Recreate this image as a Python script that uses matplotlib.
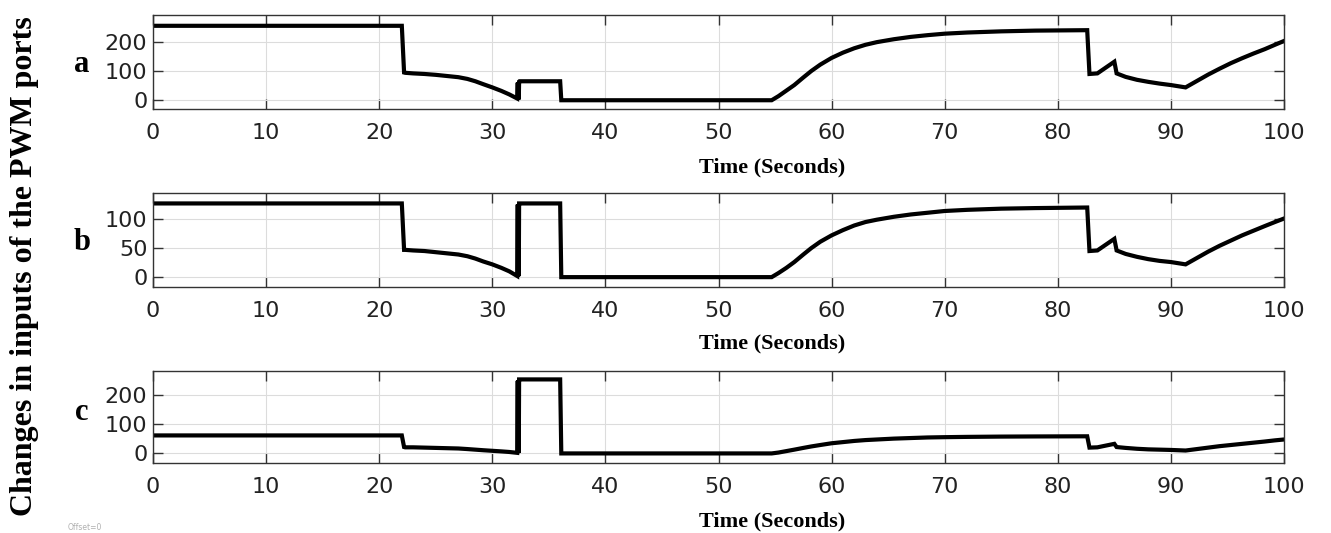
import matplotlib
matplotlib.use("Agg")
import matplotlib.pyplot as plt

# time base shared by the three PWM traces (seconds)
t = [0, 22.0, 22.2, 22.3, 23, 24, 25, 26, 27, 27.8, 28.5, 29.2, 30, 30.8, 31.5, 32.2,
     32.25, 32.28, 32.31, 32.34, 32.37, 32.4, 36.0, 36.1,
     54.7, 55.3, 56, 56.7, 57.5, 58.2, 59, 60, 61, 62, 63, 64, 65.5, 67, 68.5, 70,
     72, 75, 78, 82.6,
     82.8, 83.5, 85.0, 85.2, 86, 87, 88, 89, 90, 91.3,
     92.3, 93.3, 94.3, 95.3, 96.3, 97.3, 98.3, 99.2, 100]

pwm_a = [255, 255, 95, 94, 92, 90, 87, 83, 79, 73, 65, 55, 44, 32, 20, 6,
         60, 4, 62, 3, 64, 65, 65, 0,
         0, 14, 33, 52, 78, 100, 122, 145, 163, 178, 190, 199, 209, 217, 223, 228,
         232, 236, 238.5, 240,
         90, 92, 132, 92, 80, 70, 63, 57, 52, 44,
         66, 88, 108, 127, 144, 160, 175, 190, 203]

pwm_b = [127, 127, 47, 47, 46, 45, 43, 41, 39, 36, 32, 27, 22, 16, 10, 2,
         125, 1, 126, 2, 127, 127, 127, 0,
         0, 7, 16, 26, 39, 50, 61, 72, 81, 89, 95, 99, 104, 108, 111, 114,
         116, 118, 119, 120,
         45, 46, 66, 46, 40, 35, 31, 28, 26, 22,
         33, 44, 54, 63, 72, 80, 88, 95, 101]

pwm_c = [62, 62, 22, 21, 21, 20, 19, 18, 17, 15, 13, 11, 9, 7, 5, 2,
         250, 1, 252, 2, 255, 255, 255, 0,
         0, 3, 8, 13, 19, 24, 29, 35, 39, 43, 46, 48, 51, 53, 55, 56,
         57, 58, 58.5, 59,
         20, 21, 33, 22, 19, 16, 14, 13, 12, 10,
         15, 20, 25, 29, 33, 37, 41, 45, 48]

panels = ["a", "b", "c"]
series = [pwm_a, pwm_b, pwm_c]
yticks = [[0, 100, 200], [0, 50, 100], [0, 100, 200]]
ylims = [(-30, 292), (-17, 145), (-33, 284)]
xticks = list(range(0, 101, 10))

fig = plt.figure(figsize=(13.31, 5.33), dpi=100)
fig.patch.set_facecolor("white")

# axes boxes (pixel rows)
boxes = [(15, 109), (193, 287), (371, 463)]
left, right = 153 / 1331, 1284 / 1331
xlab_y = [167, 343, 521]
letter_y = [65, 243, 412]

tickfont = "DejaVu Sans"
serif = "Liberation Serif"

for i, (top, bot) in enumerate(boxes):
    ax = fig.add_axes([left, 1 - bot / 533, right - left, (bot - top) / 533])
    ax.plot(t, series[i], color="black", lw=3.0, solid_joinstyle="miter")
    ax.set_xlim(0, 100)
    ax.set_ylim(*ylims[i])
    ax.set_xticks(xticks)
    ax.set_yticks(yticks[i])
    ax.grid(True, color="#dcdcdc", lw=0.8)
    ax.set_axisbelow(True)
    for s in ax.spines.values():
        s.set_color("#333333")
        s.set_linewidth(1.0)
    ax.tick_params(direction="in", top=True, right=True, length=7,
                   width=1.0, color="#333333", labelcolor="#222222")
    ax.tick_params(axis="x", pad=10)
    ax.tick_params(axis="y", pad=4)
    for lab in ax.get_xticklabels() + ax.get_yticklabels():
        lab.set_fontfamily(tickfont)
        lab.set_fontsize(16)
    fig.text(772 / 1331, 1 - xlab_y[i] / 533, "Time (Seconds)", ha="center",
             va="center", fontsize=16, fontweight="bold", family=serif)
    fig.text(82 / 1331, 1 - letter_y[i] / 533, panels[i], ha="center",
             va="center", fontsize=22, fontweight="bold", family=serif)

fig.text(25 / 1331, 0.5, "Changes in inputs of the PWM ports", rotation=90,
         ha="center", va="center", fontsize=23, fontweight="bold", family=serif)
fig.text(68 / 1331, 1 - 527 / 533, "Offset=0", ha="left", va="center",
         fontsize=5.5, color="#b0b0b0", family=tickfont)

fig.savefig("out.png", dpi=100)
